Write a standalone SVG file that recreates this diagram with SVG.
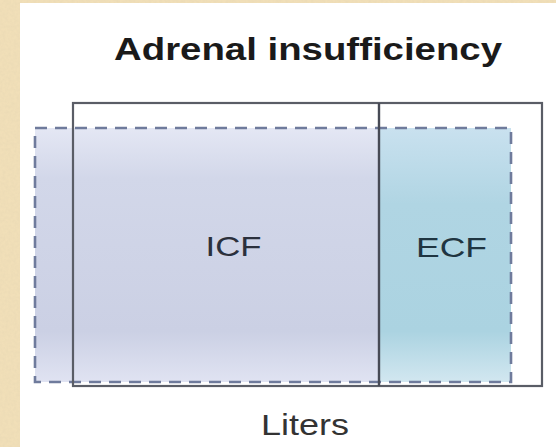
<svg xmlns="http://www.w3.org/2000/svg" width="556" height="447" viewBox="0 0 556 447">
  <style>
    .lbl { font-family: "Liberation Sans", Arial, sans-serif; }
    .solid { fill: none; stroke: #5a5d66; stroke-width: 2.2; }
    .dash { fill: none; stroke: #6f7b9c; stroke-width: 2.6; stroke-dasharray: 12 8; }
  </style>
  <defs>
    <linearGradient id="gIcf" x1="0" y1="0" x2="0" y2="1">
      <stop offset="0" stop-color="#e4e7f4"/>
      <stop offset="0.2" stop-color="#d2d7e9"/>
      <stop offset="0.8" stop-color="#cbd0e4"/>
      <stop offset="1" stop-color="#e0e3f2"/>
    </linearGradient>
    <linearGradient id="gEcf" x1="0" y1="0" x2="0" y2="1">
      <stop offset="0" stop-color="#c9e1ef"/>
      <stop offset="0.3" stop-color="#b0d5e3"/>
      <stop offset="0.8" stop-color="#abd3e1"/>
      <stop offset="1" stop-color="#d2e7f0"/>
    </linearGradient>
    <filter id="paper" x="0" y="0" width="100%" height="100%">
      <feTurbulence type="fractalNoise" baseFrequency="0.35" numOctaves="3" seed="4"/>
      <feColorMatrix type="matrix" values="0 0 0 0 0.80  0 0 0 0 0.68  0 0 0 0 0.45  0 0 0 0.9 -0.25"/>
      <feComposite in2="SourceGraphic" operator="in"/>
    </filter>
  </defs>

  <!-- parchment background -->
  <rect x="0" y="0" width="556" height="447" fill="#f1dfb8"/>
  <rect x="0" y="0" width="556" height="447" fill="#f1dfb8" filter="url(#paper)"/>
  <!-- white slide panel -->
  <rect x="20" y="3" width="536" height="444" fill="#ffffff"/>

  <g id="title">
    <text class="lbl" x="308" y="60" font-size="31" font-weight="bold" fill="#1a1a1a" text-anchor="middle" textLength="388" lengthAdjust="spacingAndGlyphs">Adrenal insufficiency</text>
  </g>

  <g id="icf">
    <rect x="35" y="128" width="344" height="254" fill="url(#gIcf)"/>
    <text class="lbl" x="233.5" y="256" font-size="28" fill="#2b303c" text-anchor="middle" textLength="56" lengthAdjust="spacingAndGlyphs">ICF</text>
  </g>

  <g id="ecf">
    <rect x="379" y="128" width="132" height="254" fill="url(#gEcf)"/>
    <text class="lbl" x="451.5" y="257" font-size="28" fill="#1f3541" text-anchor="middle" textLength="71" lengthAdjust="spacingAndGlyphs">ECF</text>
  </g>

  <g id="new-volume">
    <rect class="dash" x="35" y="128" width="476" height="254"/>
  </g>

  <g id="normal-volume">
    <rect class="solid" x="73" y="103" width="469" height="283"/>
    <line x1="379" y1="103" x2="379" y2="386" stroke="#474a55" stroke-width="2.4"/>
  </g>

  <g id="axis-label">
    <text class="lbl" x="305" y="435" font-size="29" fill="#333333" text-anchor="middle" textLength="88" lengthAdjust="spacingAndGlyphs">Liters</text>
  </g>

  <g id="connectors"/>
</svg>
